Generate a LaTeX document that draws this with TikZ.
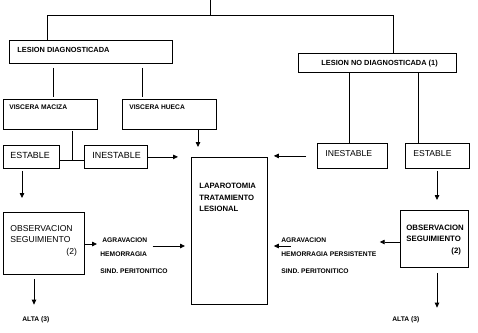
\documentclass[tikz,border=0pt]{standalone}
\usepackage{fontspec}
\setmainfont{Liberation Sans}
\usetikzlibrary{arrows.meta}
\begin{document}
\begin{tikzpicture}[x=1pt,y=-1pt,
  line width=0.8pt,
  box/.style={draw, line width=0.8pt, inner sep=0pt, anchor=north west},
  txt/.style={inner sep=0pt, anchor=base west},
  arr/.style={-{Triangle[length=5pt,width=4.5pt]}},
  fhead/.style={font=\fontsize{7.4}{8}\selectfont\bfseries},
  fsmall/.style={font=\fontsize{6.7}{7}\selectfont\bfseries},
  freg/.style={font=\fontsize{8.9}{9}\selectfont},
  flap/.style={font=\fontsize{7.7}{8}\selectfont\bfseries},
]
\useasboundingbox (0,0) rectangle (478,332);

% boxes
\node[box, minimum width=163pt, minimum height=23pt] (ld) at (9,40) {};
\node[box, minimum width=158pt, minimum height=19pt] (lnd) at (298,53) {};
\node[box, minimum width=94pt, minimum height=30pt] (vm) at (3,99) {};
\node[box, minimum width=94pt, minimum height=30pt] (vh) at (122,99) {};
\node[box, minimum width=56pt, minimum height=23pt] (esl) at (3,145) {};
\node[box, minimum width=63pt, minimum height=23pt] (inl) at (84,145) {};
\node[box, minimum width=70pt, minimum height=25pt] (inr) at (317,143) {};
\node[box, minimum width=64pt, minimum height=25pt] (esr) at (405,143) {};
\node[box, minimum width=76pt, minimum height=147pt] (lap) at (191,157) {};
\node[box, minimum width=81pt, minimum height=62pt] (obl) at (3,212) {};
\node[box, minimum width=68pt, minimum height=57pt] (obr) at (400,210) {};

% texts
\node[txt, fhead] (tld) at (17,52.6) {LESION DIAGNOSTICADA};
\node[txt, fhead] (tlnd) at (321,65.8) {LESION NO DIAGNOSTICADA (1)};
\node[txt, fsmall] (tvm) at (9,109.4) {VISCERA MACIZA};
\node[txt, fsmall] (tvh) at (129,109.4) {VISCERA HUECA};
\node[txt, freg] (tesl) at (10,158.2) {ESTABLE};
\node[txt, freg] (tinl) at (92,158.2) {INESTABLE};
\node[txt, font=\fontsize{8.6}{9}\selectfont] (tinr) at (325,156.7) {INESTABLE};
\node[txt, font=\fontsize{8.6}{9}\selectfont] (tesr) at (413,156.7) {ESTABLE};
\node[txt, flap] (tlap1) at (199,188.8) {LAPAROTOMIA};
\node[txt, flap] (tlap2) at (199,200.3) {TRATAMIENTO};
\node[txt, flap] (tlap3) at (199,211.3) {LESIONAL};
\node[txt, font=\fontsize{8.6}{9}\selectfont] (tobl1) at (10,231.6) {OBSERVACION};
\node[txt, font=\fontsize{8.6}{9}\selectfont] (tobl2) at (10,242.1) {SEGUIMIENTO};
\node[txt, font=\fontsize{8.6}{9}\selectfont] (tobl3) at (66,254) {(2)};
\node[txt, font=\fontsize{7.8}{8}\selectfont\bfseries] (tobr1) at (406,230.8) {OBSERVACION};
\node[txt, font=\fontsize{7.8}{8}\selectfont\bfseries] (tobr2) at (406,241.8) {SEGUIMIENTO};
\node[txt, font=\fontsize{7.8}{8}\selectfont\bfseries] (tobr3) at (451,253.5) {(2)};
\node[txt, fsmall] (agl) at (102,242.9) {AGRAVACION};
\node[txt, fsmall] (heml) at (100,256.9) {HEMORRAGIA};
\node[txt, fsmall] (sinl) at (100,273.9) {SIND. PERITONITICO};
\node[txt, fsmall] (agr) at (281,242.9) {AGRAVACION};
\node[txt, fsmall] (hemr) at (281,256.9) {HEMORRAGIA PERSISTENTE};
\node[txt, fsmall] (sinr) at (281,273.9) {SIND. PERITONITICO};
\node[txt, fsmall] (altal) at (22,321.9) {ALTA (3)};
\node[txt, fsmall] (altar) at (392,321.9) {ALTA (3)};

% coordinates
\coordinate (tk) at (210,0);
\coordinate (tl) at (47,15);
\coordinate (tr) at (393,15);
\coordinate (x53) at (53,0);
\coordinate (x142) at (142,0);
\coordinate (mj) at (72,160);
\coordinate (x198) at (198,0);
\coordinate (x349) at (349,0);
\coordinate (x418) at (418,0);
\coordinate (x22) at (22,0);
\coordinate (x34) at (34,0);
\coordinate (x437) at (437,0);
\coordinate (y244) at (0,244);
\coordinate (y246) at (0,246);
\coordinate (y242) at (0,242);
\coordinate (rs) at (291,246);

% connectors
\draw (tk) -- (tk |- tl);
\draw (ld.north -| tl) -- (tl) -- (tr) -- (lnd.north -| tr);
\draw[shorten <=4pt, shorten >=2pt] (ld.south -| x53) -- (vm.north -| x53);
\draw[shorten <=4pt, shorten >=2pt] (ld.south -| x142) -- (vh.north -| x142);
\draw[shorten <=1pt] (vm.south -| mj) -- (mj);
\draw (esl.east |- mj) -- (inl.west |- mj);
\draw[arr, shorten >=10pt] (vh.south -| x198) -- (lap.north -| x198);
\draw[arr, shorten >=13pt] (inl.east) -- (inl.east -| lap.west);
\draw (lnd.south -| x349) -- (inr.north -| x349);
\draw (lnd.south -| x418) -- (esr.north -| x418);
\draw[arr, shorten <=11pt, shorten >=6pt] (inr.west) -- (inr.west -| lap.east);
\draw[arr, shorten <=2pt, shorten >=14pt] (esl.south -| x22) -- (obl.north -| x22);
\draw[arr, shorten <=2pt, shorten >=10pt] (esr.south -| x437) -- (obr.north -| x437);
\draw[arr, shorten >=5pt] (obl.east |- y244) -- (agl.west |- y244);
\draw[arr, shorten <=5pt, shorten >=6pt] (agl.east |- y246) -- (lap.west |- y246);
\draw[arr, shorten >=3pt] (obr.west |- y242) -- (hemr.east |- y242);
\draw[arr, shorten >=6pt] (rs) -- (lap.east |- rs);
\draw[arr, shorten <=4pt, shorten >=12pt] (obl.south -| x34) -- (altal.north -| x34);
\draw[arr, shorten <=5pt, shorten >=9pt] (obr.south -| x437) -- (altar.north -| x437);
\end{tikzpicture}
\end{document}
